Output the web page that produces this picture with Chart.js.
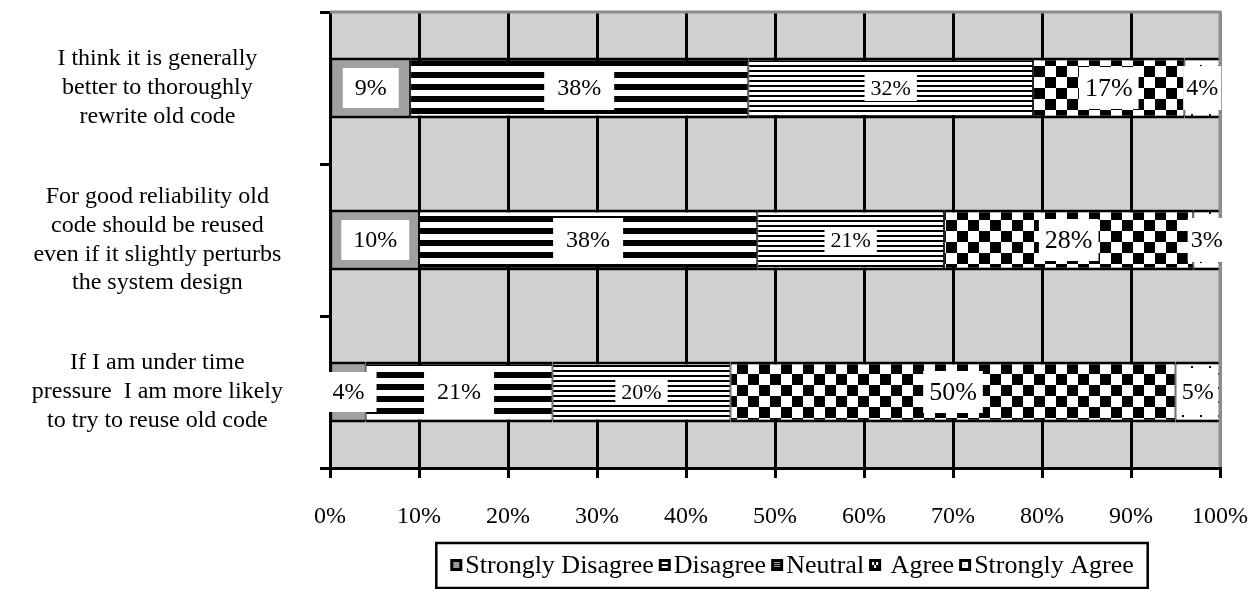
<!DOCTYPE html>
<html>
<head>
<meta charset="utf-8">
<title>Attitudes towards reusing old code</title>
<script src="https://cdn.jsdelivr.net/npm/chart.js@4.4.1/dist/chart.umd.min.js"></script>
<style>
  html, body { margin: 0; padding: 0; background: #fff; }
  #c { display: block; }
</style>
</head>
<body>
<canvas id="c" width="1253" height="589"></canvas>
<script>
// ---- data ----
const categories = [
  ['I think it is generally', 'better to thoroughly', 'rewrite old code'],
  ['For good reliability old', 'code should be reused', 'even if it slightly perturbs', 'the system design'],
  ['If I am under time', 'pressure  I am more likely', 'to try to reuse old code']
];
const seriesNames = ['Strongly Disagree', 'Disagree', 'Neutral', 'Agree', 'Strongly Agree'];
const stronglyDisagree = [9, 10, 4];
const disagree = [38, 38, 21];
const neutral = [32, 21, 20];
const agree = [17, 28, 50];
const stronglyAgree = [4, 3, 5];
const xTickValues = [0, 10, 20, 30, 40, 50, 60, 70, 80, 90, 100];

// ---- styles ----
const SERIF = "'Liberation Serif', 'Times New Roman', serif";
const PLOT_BG = '#d0d0d0';
const FRAME_GRAY = '#8c8c8c';

const canvas = document.getElementById('c');
const ctx = canvas.getContext('2d');

function tile(w, h, paint) {
  const t = document.createElement('canvas');
  t.width = w; t.height = h;
  const g = t.getContext('2d');
  paint(g, w, h);
  return ctx.createPattern(t, 'repeat');
}

const fills = [
  '#a0a0a0',
  // wide horizontal stripes
  tile(1, 12, g => { g.fillStyle = '#fff'; g.fillRect(0, 0, 1, 12); g.fillStyle = '#000'; g.fillRect(0, 0, 1, 6); }),
  // narrow horizontal stripes
  tile(1, 5, g => { g.fillStyle = '#fff'; g.fillRect(0, 0, 1, 5); g.fillStyle = '#000'; g.fillRect(0, 0, 1, 2); }),
  // checkerboard
  tile(22, 22, g => {
    g.fillStyle = '#fff'; g.fillRect(0, 0, 22, 22);
    g.fillStyle = '#000'; g.fillRect(0, 0, 11, 11); g.fillRect(11, 11, 11, 11);
  }),
  // sparse dots
  tile(18, 14, g => {
    g.fillStyle = '#fff'; g.fillRect(0, 0, 18, 14);
    g.fillStyle = '#000'; g.fillRect(3, 2, 2, 2); g.fillRect(12, 9, 2, 2);
  })
];

// value label look per series: font size and white box padding
const labelStyle = [
  { size: 24, padX: 12, padY: 8 },
  { size: 24, padX: 13, padY: 10 },
  { size: 22, padX: 6, padY: 2 },
  { size: 26, padX: 6, padY: 8 },
  { size: 24, padX: 3, padY: 10 }
];

const seriesValues = [stronglyDisagree, disagree, neutral, agree, stronglyAgree];

const datasets = seriesNames.map((name, i) => ({
  label: name,
  data: seriesValues[i],
  backgroundColor: fills[i],
  borderColor: '#000',
  borderWidth: { top: 3, bottom: 3, left: 1, right: 1 },
  borderSkipped: false,
  barPercentage: 0.4,
  categoryPercentage: 1.0
}));

// plot background and grey top/right frame
const plotFrame = {
  id: 'plotFrame',
  beforeDraw(chart) {
    const { ctx: c, chartArea: a } = chart;
    c.save();
    c.fillStyle = PLOT_BG;
    c.fillRect(a.left, a.top, a.right - a.left, a.bottom - a.top);
    c.restore();
  },
  afterDatasetsDraw(chart) {
    const { ctx: c, chartArea: a } = chart;
    c.save();
    c.strokeStyle = FRAME_GRAY;
    c.lineWidth = 3;
    c.beginPath();
    c.moveTo(a.left, a.top);
    c.lineTo(a.right, a.top);
    c.lineTo(a.right, a.bottom - 2);
    c.stroke();
    c.restore();
  }
};

// percentage labels on white boxes centred in each segment
const valueLabels = {
  id: 'valueLabels',
  afterDatasetsDraw(chart) {
    const c = chart.ctx;
    chart.data.datasets.forEach((ds, i) => {
      const meta = chart.getDatasetMeta(i);
      const st = labelStyle[i];
      meta.data.forEach((bar, j) => {
        const text = ds.data[j] + '%';
        c.save();
        c.font = st.size + 'px ' + SERIF;
        const w = c.measureText(text).width;
        const cx = (bar.x + bar.base) / 2;
        const cy = bar.y;
        const bw = w + 2 * st.padX;
        const bh = st.size + 2 * st.padY;
        c.fillStyle = '#fff';
        c.fillRect(cx - bw / 2, cy - bh / 2, bw, bh);
        c.fillStyle = '#000';
        c.textAlign = 'center';
        c.textBaseline = 'middle';
        c.fillText(text, cx, cy + 1);
        c.restore();
      });
    });
  }
};

// small legend icons: black square with a tiny sample of the fill
function drawIcon(c, i, x, y, s) {
  c.fillStyle = '#000';
  c.fillRect(x, y, s, s);
  const ix = x + 3, iy = y + 3, is = s - 6;
  if (i === 0) {
    c.fillStyle = '#9a9a9a'; c.fillRect(ix, iy, is, is);
  } else if (i === 1) {
    c.fillStyle = '#fff'; c.fillRect(ix, iy, is, 2); c.fillRect(ix, iy + 4, is, 2);
  } else if (i === 2) {
    c.fillStyle = '#a8a8a8'; c.fillRect(ix, iy, is, 1); c.fillRect(ix, iy + 2, is, 1); c.fillRect(ix, iy + 4, is, 1);
  } else if (i === 3) {
    c.fillStyle = '#fff'; c.fillRect(ix, iy, is, is);
    c.fillStyle = '#000'; c.fillRect(ix + 2, iy, 2, 3); c.fillRect(ix, iy + 3, 2, 3); c.fillRect(ix + 4, iy + 3, 2, 3);
  } else {
    c.fillStyle = '#fff'; c.fillRect(ix, iy, is, is);
    c.fillStyle = '#777'; c.fillRect(ix + 2, iy + 2, 1, 1);
  }
}

// boxed legend below the axis
const boxedLegend = {
  id: 'boxedLegend',
  afterDraw(chart, args, opts) {
    const c = chart.ctx;
    const a = chart.chartArea;
    const fontSize = opts.fontSize;
    const icon = 12, iconGap = 3, itemGap = opts.itemGap;
    c.save();
    c.font = fontSize + 'px ' + SERIF;
    const texts = seriesNames.map(n => (n === 'Agree' ? ' ' + n : n));
    const widths = texts.map(t => c.measureText(t).width);
    const total = widths.reduce((s, w) => s + icon + iconGap + w, 0) + itemGap * (texts.length - 1);
    const centerX = (a.left + a.right) / 2 + opts.shiftX;
    const boxL = centerX - total / 2 - opts.padX;
    const boxR = centerX + total / 2 + opts.padX;
    const boxT = opts.top, boxB = opts.bottom;
    c.strokeStyle = '#000';
    c.lineWidth = 2.5;
    c.strokeRect(boxL, boxT, boxR - boxL, boxB - boxT);
    const midY = opts.midY;
    let x = centerX - total / 2;
    c.textAlign = 'left';
    c.textBaseline = 'middle';
    texts.forEach((t, i) => {
      drawIcon(c, i, x, Math.round(midY - icon / 2), icon);
      x += icon + iconGap;
      c.fillStyle = '#000';
      c.fillText(t, x, midY + 1);
      x += widths[i] + itemGap;
    });
    c.restore();
  }
};

Chart.defaults.color = '#000';
Chart.defaults.font.family = SERIF;

new Chart(ctx, {
  type: 'bar',
  data: { labels: categories, datasets },
  plugins: [plotFrame, valueLabels, boxedLegend],
  options: {
    indexAxis: 'y',
    responsive: false,
    animation: false,
    events: [],
    layout: { padding: { top: 12, right: 33, bottom: 51, left: 0 } },
    plugins: {
      legend: { display: false },
      tooltip: { enabled: false },
      title: { display: false },
      boxedLegend: { fontSize: 26, itemGap: 5, padX: 14, shiftX: 17, top: 543, bottom: 588, midY: 565 }
    },
    scales: {
      x: {
        type: 'linear',
        stacked: true,
        min: 0,
        max: 100,
        afterBuildTicks(scale) { scale.ticks = xTickValues.map(v => ({ value: v })); },
        afterFit(scale) {
          scale.height = 70;
          scale.paddingLeft = 0;
          scale.paddingRight = 0;
        },
        ticks: {
          callback: v => v + '%',
          font: { size: 24, family: SERIF },
          padding: 24,
          maxRotation: 0,
          autoSkip: false
        },
        grid: {
          color: c => (c.tick && c.tick.value === 100 ? FRAME_GRAY : '#000'),
          tickColor: '#000',
          lineWidth: 3,
          tickLength: 10,
          drawTicks: true
        },
        border: { display: true, color: '#000', width: 3 }
      },
      y: {
        type: 'category',
        stacked: true,
        afterFit(scale) {
          scale.width = 330;
          scale.paddingTop = 0;
          scale.paddingBottom = 0;
        },
        ticks: {
          font: { size: 24, family: SERIF, lineHeight: 1.2 },
          crossAlign: 'center',
          padding: 37,
          autoSkip: false
        },
        grid: {
          offset: true,
          drawOnChartArea: false,
          drawTicks: true,
          tickLength: 10,
          color: '#000',
          lineWidth: 3
        },
        border: { display: true, color: '#000', width: 3 }
      }
    }
  }
});
</script>
</body>
</html>
